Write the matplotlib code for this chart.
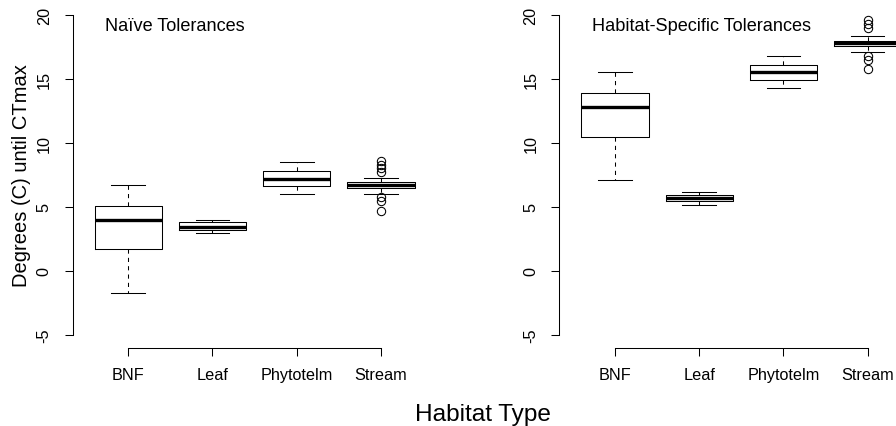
import matplotlib
matplotlib.use('Agg')
import matplotlib.pyplot as plt

plt.rcParams['font.family'] = ['Liberation Sans', 'DejaVu Sans']

habitats = ['BNF', 'Leaf', 'Phytotelm', 'Stream']

# naive tolerances (degrees until CTmax)
naive_low = [-1.72, 2.99, 6.02, 6.02]
naive_q1 = [1.72, 3.20, 6.64, 6.48]
naive_med = [4.00, 3.46, 7.19, 6.72]
naive_q3 = [5.08, 3.80, 7.79, 6.93]
naive_high = [6.72, 4.00, 8.49, 7.27]
naive_out = [[], [], [], [8.57, 8.30, 8.05, 7.76, 5.76, 5.50, 4.71]]

# habitat-specific tolerances
spec_low = [7.11, 5.18, 14.32, 17.08]
spec_q1 = [10.50, 5.44, 14.95, 17.60]
spec_med = [12.79, 5.68, 15.55, 17.81]
spec_q3 = [13.88, 5.96, 16.12, 17.97]
spec_high = [15.52, 6.20, 16.82, 18.36]
spec_out = [[], [], [], [19.63, 19.30, 18.95, 16.77, 16.51, 15.78]]


def make_stats(lo, q1, med, q3, hi, out):
    stats = []
    for i in range(len(habitats)):
        stats.append({'whislo': lo[i], 'q1': q1[i], 'med': med[i],
                      'q3': q3[i], 'whishi': hi[i], 'fliers': out[i]})
    return stats


def draw_panel(ax, stats, title_x, title):
    ax.bxp(stats, positions=[1, 2, 3, 4], widths=0.8, capwidths=0.4,
           boxprops=dict(color='black', linewidth=0.75),
           medianprops=dict(color='black', linewidth=2.4, solid_capstyle='butt'),
           whiskerprops=dict(color='black', linewidth=0.75, linestyle=(0, (4, 4))),
           capprops=dict(color='black', linewidth=0.75),
           flierprops=dict(marker='o', markersize=6, markerfacecolor='none',
                           markeredgecolor='black', markeredgewidth=0.75))
    ax.set_xlim(0.34, 4.66)
    ax.set_ylim(-6, 21)
    ax.spines['top'].set_visible(False)
    ax.spines['right'].set_visible(False)
    ax.spines['left'].set_bounds(-5, 20)
    ax.spines['bottom'].set_bounds(1, 4)
    for s in ['left', 'bottom']:
        ax.spines[s].set_linewidth(0.75)
    ax.set_xticks([1, 2, 3, 4])
    ax.set_xticklabels(habitats, fontsize=11.7)
    ax.set_yticks([-5, 0, 5, 10, 15, 20])
    ax.set_yticklabels(['-5', '0', '5', '10', '15', '20'], fontsize=11.7,
                       rotation=90, va='center')
    ax.tick_params(axis='x', direction='out', length=6.1, width=0.75, pad=8)
    ax.tick_params(axis='y', direction='out', length=6.1, width=0.75, pad=9)
    fig.text(title_x / 896, (427 - 31) / 427, title, fontsize=13.1, va='baseline')


fig = plt.figure(figsize=(8.96, 4.27), dpi=100)
ax1 = fig.add_axes([72.7 / 896, 78.2 / 427, 363.8 / 896, 345.6 / 427])
ax2 = fig.add_axes([559.4 / 896, 78.2 / 427, 363.8 / 896, 345.6 / 427])

draw_panel(ax1, make_stats(naive_low, naive_q1, naive_med, naive_q3, naive_high, naive_out),
           105, 'Naïve Tolerances')
draw_panel(ax2, make_stats(spec_low, spec_q1, spec_med, spec_q3, spec_high, spec_out),
           592, 'Habitat-Specific Tolerances')

fig.text(22 / 896, (427 - 176) / 427, 'Degrees (C) until CTmax', fontsize=14.5,
         rotation=90, ha='center', va='center')
fig.text(483 / 896, (427 - 421) / 427, 'Habitat Type', fontsize=17.6,
         ha='center', va='baseline')

fig.savefig('out.png', dpi=100)
